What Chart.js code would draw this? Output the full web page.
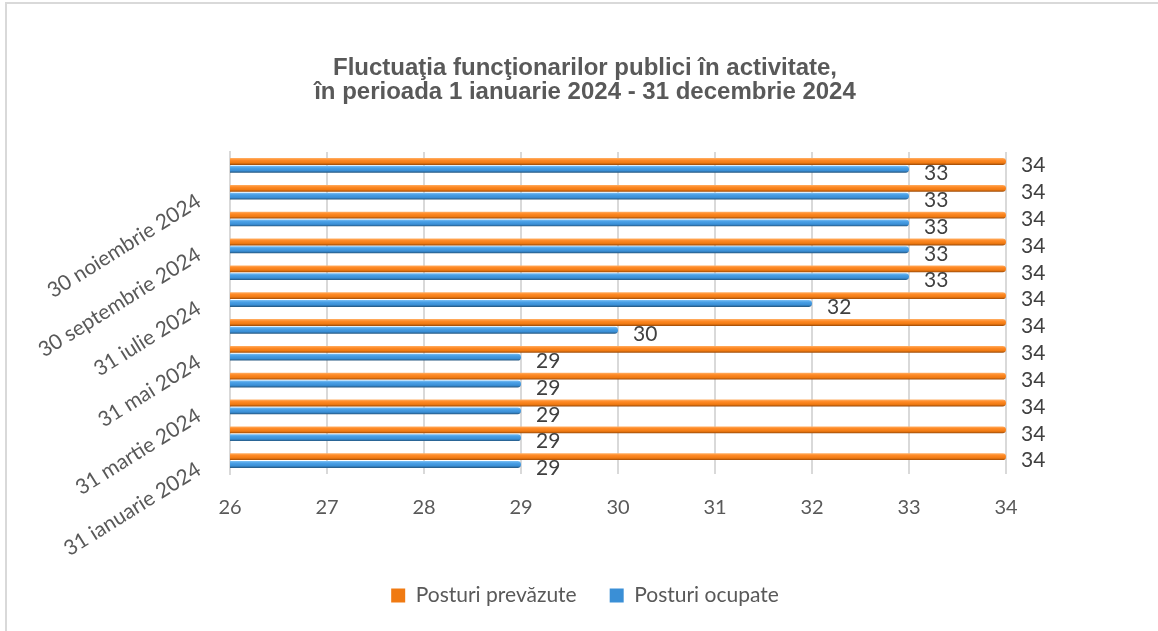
<!DOCTYPE html>
<html>
<head>
<meta charset="utf-8">
<script src="https://cdn.jsdelivr.net/npm/chart.js@4.4.1/dist/chart.umd.min.js"></script>
<style>
  html, body { margin: 0; padding: 0; background: #fff; overflow: hidden; }
  #wrap { position: relative; width: 1158px; height: 631px; }
  #frame { position: absolute; left: 5px; top: 2px; width: 1300px; height: 800px; border: 2px solid #d9d9d9; }
  #chart { position: absolute; left: 0; top: 0; }
</style>
</head>
<body>
<div id="wrap">
  <div id="frame"></div>
  <canvas id="chart" width="1158" height="631"></canvas>
</div>
<script>
// date de raportare (sfarsitul fiecarei luni)
const luni = [
  "31 ianuarie 2024", "29 februarie 2024", "31 martie 2024", "30 aprilie 2024",
  "31 mai 2024", "30 iunie 2024", "31 iulie 2024", "31 august 2024",
  "30 septembrie 2024", "31 octombrie 2024", "30 noiembrie 2024", "31 decembrie 2024",
];
const posturiPrevazute = [34, 34, 34, 34, 34, 34, 34, 34, 34, 34, 34, 34];
const posturiOcupate = [29, 29, 29, 29, 29, 30, 32, 33, 33, 33, 33, 33];
const axaMin = 26;
const axaMax = 34;

const titlu = [
  "Fluctuaţia funcţionarilor publici în activitate,",
  "în perioada 1 ianuarie 2024 - 31 decembrie 2024",
];

const textColor = "#595959";
const labelFont = { family: "Lato", size: 20 };
const wideFont = { family: "Lato", size: 21 };

const orangeShades = [[0, "#ffb066"], [0.3, "#ff8a26"], [0.7, "#f07a12"], [1, "#9a4a08"]];
const blueShades = [[0, "#7cc0f5"], [0.3, "#4aa0e6"], [0.7, "#3a8fd6"], [1, "#24567f"]];

// umbrire tip cilindru pe fiecare bara
const barShading = {
  id: "barShading",
  beforeDatasetsDraw(chart) {
    const ctx = chart.ctx;
    chart.data.datasets.forEach((ds, i) => {
      chart.getDatasetMeta(i).data.forEach((bar) => {
        const g = ctx.createLinearGradient(0, bar.y - bar.height / 2, 0, bar.y + bar.height / 2);
        ds.shades.forEach(([stop, color]) => g.addColorStop(stop, color));
        bar.options = Object.assign({}, bar.options, { backgroundColor: g });
      });
    });
  },
};

// valorile scrise la capatul barelor
const valueLabels = {
  id: "valueLabels",
  afterDatasetsDraw(chart) {
    const ctx = chart.ctx;
    ctx.save();
    ctx.font = "21px Lato";
    ctx.fillStyle = "#404040";
    ctx.textAlign = "left";
    ctx.textBaseline = "middle";
    chart.data.datasets.forEach((ds, i) => {
      chart.getDatasetMeta(i).data.forEach((bar, j) => {
        ctx.fillText(ds.data[j], bar.x + 15, bar.y + 4);
      });
    });
    ctx.restore();
  },
};

new Chart(document.getElementById("chart"), {
  type: "bar",
  data: {
    labels: luni,
    datasets: [
      {
        label: "Posturi prevăzute",
        data: posturiPrevazute,
        backgroundColor: "#f07a12",
        shades: orangeShades,
        borderRadius: 4,
        borderSkipped: "start",
        categoryPercentage: 0.58,
        barPercentage: 0.88,
      },
      {
        label: "Posturi ocupate",
        data: posturiOcupate,
        backgroundColor: "#3a8fd6",
        shades: blueShades,
        borderRadius: 4,
        borderSkipped: "start",
        categoryPercentage: 0.58,
        barPercentage: 0.88,
      },
    ],
  },
  options: {
    responsive: false,
    animation: false,
    indexAxis: "y",
    layout: { padding: { left: 12, right: 0, top: 0, bottom: 15 } },
    plugins: {
      title: {
        display: true,
        text: titlu,
        color: textColor,
        font: { family: "'Liberation Sans', Arial", size: 24, weight: "bold", lineHeight: 1.02 },
        padding: { top: 56, bottom: 47 },
      },
      legend: {
        position: "bottom",
        labels: {
          color: textColor,
          font: wideFont,
          boxWidth: 14,
          boxHeight: 14,
          padding: 33,
        },
      },
      tooltip: { enabled: false },
    },
    scales: {
      x: {
        min: axaMin,
        max: axaMax,
        ticks: { stepSize: 1, color: textColor, font: labelFont, padding: 22 },
        grid: { color: "#d9d9d9", lineWidth: 2, drawTicks: false },
        border: { display: false },
        afterFit(scale) {
          scale.height += 10;
        },
      },
      y: {
        reverse: true,
        ticks: {
          autoSkip: false,
          minRotation: 32,
          maxRotation: 32,
          padding: 31,
          labelOffset: 7,
          color: textColor,
          font: wideFont,
          callback(value, index) {
            return index % 2 === 0 ? this.getLabelForValue(value) : "";
          },
        },
        grid: { display: false, drawTicks: false },
        border: { display: true, color: "#d9d9d9", width: 2 },
        afterFit(scale) {
          scale.width = 218;
        },
      },
      // spatiu gol in dreapta pentru etichetele valorilor
      yDreapta: {
        position: "right",
        ticks: { display: false },
        grid: { display: false, drawTicks: false },
        border: { display: false },
        afterFit(scale) {
          scale.width = 152;
        },
      },
    },
  },
  plugins: [barShading, valueLabels],
});
</script>
</body>
</html>
